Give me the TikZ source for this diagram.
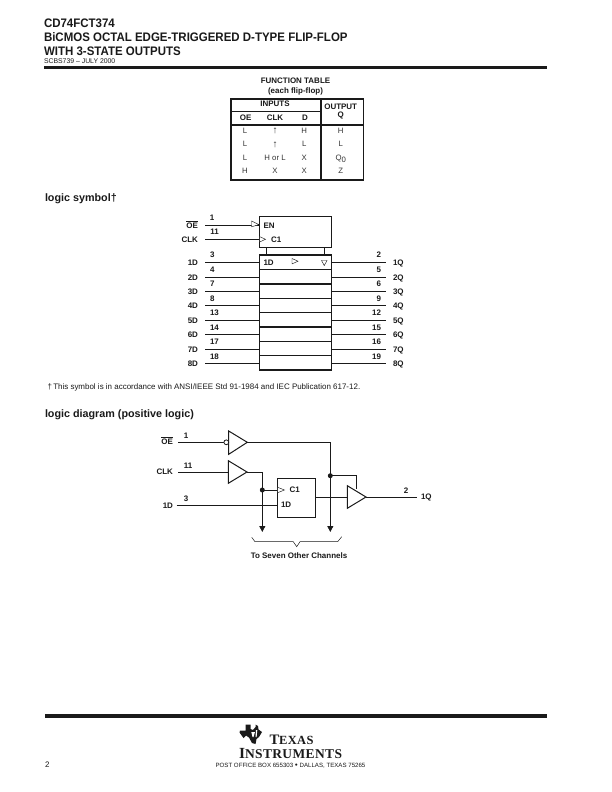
\documentclass[tikz,border=0pt]{standalone}
\usepackage{fontspec}
\setmainfont{Liberation Sans}
\newfontfamily\logofont[LetterSpace=3]{Liberation Serif}
\newfontfamily\condfont[FakeStretch=0.93]{Liberation Sans}
\usetikzlibrary{arrows.meta,calc}
\newcommand{\fsz}[1]{\fontsize{#1}{#1}\selectfont}
\newcommand{\ovl}[1]{$\overline{\hbox{#1}}$}
\definecolor{txt}{HTML}{1A1A1A}
\definecolor{txtgray}{HTML}{333333}
\tikzset{
  x=1bp,y=-1bp,
  base/.style={inner sep=0pt,outer sep=0pt,text=txt},
  title/.style={base,anchor=base west,font=\condfont\fsz{12.4}\bfseries},
  head/.style={base,anchor=base west,font=\fsz{10.8}\bfseries},
  pin/.style={base,anchor=base,font=\fsz{8}\bfseries},
  cell/.style={base,anchor=base,font=\fsz{7.8},text=txtgray},
  small/.style={base,anchor=base west,font=\fsz{6.9}},
  wire/.style={draw=txt,line width=0.8pt},
  thick box/.style={draw=txt,line width=1.4pt},
  rulebar/.style={draw=txt,line width=3.4pt},
  tabrule/.style={draw=txt,line width=1.5pt},
  clkmark/.style={draw=txt,line width=0.45pt},
  gate/.style={draw=txt,line width=1pt,fill=white,line join=miter},
  dot/.style={circle,fill=txt,inner sep=0pt,minimum size=5pt},
  downarrow/.style={wire,-{Triangle[length=6pt,width=6pt]}},
}
\begin{document}
\begin{tikzpicture}
\useasboundingbox (0,0) rectangle (612,792);
\fill[white] (0,0) rectangle (612,792);
% header
\node[title] (t1) at (44,27.7) {CD74FCT374};
\node[title] (t2) at (44,42) {BiCMOS OCTAL EDGE-TRIGGERED D-TYPE FLIP-FLOP};
\node[title] (t3) at (44,55.5) {WITH 3-STATE OUTPUTS};
\node[small] (t4) at (44,63.3) {SCBS739 -- JULY 2000};
\draw[rulebar] (44,67.5) -- (547,67.5);
% function table
\node[pin] (ft1) at (295.5,83) {FUNCTION TABLE};
\node[pin] (ft2) at (295.5,93) {(each flip-flop)};
\draw[tabrule] (231,99) rectangle (363.5,180);
\draw[tabrule] (321,99) -- (321,180);
\draw[tabrule] (231,111.7) -- (321,111.7);
\draw[tabrule] (231,125) -- (363.5,125);
\node[pin] at (275,106.7) {INPUTS};
\node[pin] at (340.7,109) {OUTPUT};
\node[pin] at (340.7,117.7) {Q};
\node[pin] at (245.7,120.7) {OE};
\node[pin] at (275,120.7) {CLK};
\node[pin] at (305,120.7) {D};
\node[cell] at (245,133.3) {L};
\node[cell,font=\fsz{10}] at (275,133.5) {↑};
\node[cell] at (304.3,133.3) {H};
\node[cell] at (340.7,133.3) {H};
\node[cell] at (245,146.7) {L};
\node[cell,font=\fsz{10}] at (275,147) {↑};
\node[cell] at (304.3,146.7) {L};
\node[cell] at (340.7,146.7) {L};
\node[cell] at (245,160.7) {L};
\node[cell] at (275,160.7) {H or L};
\node[cell] at (304.3,160.7) {X};
\node[cell] at (340.7,160.7) {Q\raisebox{-1.5pt}{0}};
\node[cell] at (245,173.3) {H};
\node[cell] at (275,173.3) {X};
\node[cell] at (304.3,173.3) {X};
\node[cell] at (340.7,173.3) {Z};
% logic symbol
\node[head] at (45,201.5) {logic symbol\raisebox{0.5pt}{†}};
\draw[thick box] (259.3,216.7) rectangle (331.3,247.3);
\draw[thick box] (266.3,247.3) -- (266.3,255);
\draw[thick box] (324.3,247.3) -- (324.3,255);
\draw[thick box] (259.3,255) rectangle (331.3,370);
\foreach \yy/\lw in {269.7/1.4,284/1.4,298.3/0.8,312.3/0.8,327/1.4,341/0.8,355.7/1.4}
  \draw[draw=txt,line width=\lw pt] (259.3,\yy) -- (331.3,\yy);
% control pins
\coordinate (enin) at (205,225); \coordinate (enpin) at (259.3,225);
\coordinate (clkin) at (205,239.3); \coordinate (clkpin) at (259.3,239.3);
\draw[wire] (enin) -- (enpin);
\draw[wire] (clkin) -- (clkpin);
\draw[clkmark,fill=white] (251.5,221) -- (259,224.6) -- (251.5,226.8) -- cycle;
\draw[clkmark,fill=white] (259.6,236.6) -- (265.5,239.3) -- (259.6,242) -- cycle;
\node[pin,anchor=base east] (oelab) at (198,228) {\ovl{OE}};
\node[pin,anchor=base east] (clklab) at (198,242) {CLK};
\node[pin] at (212,220.5) {1};
\node[pin] at (214.5,234.5) {11};
\node[pin,anchor=base west] at (263.5,228) {EN};
\node[pin,anchor=base west] at (271,242) {C1};
\node[pin,anchor=base west] at (263.5,265) {1D};
\draw[clkmark] (292,258.5) -- (298,261.2) -- (292,263.9) -- cycle;
\draw[clkmark] (321.5,260.5) -- (327,260.5) -- (324.25,265.5) -- cycle;
% data pins
\foreach \n/\yy/\pa/\pb in {1/262.3/3/2,2/277/4/5,3/291.3/7/6,4/305.7/8/9,5/320/13/12,6/334.7/14/15,7/349/17/16,8/363.7/18/19}{
  \coordinate (dl\n) at (205,\yy);
  \coordinate (dr\n) at (259.3,\yy);
  \coordinate (ql\n) at (331.3,\yy);
  \coordinate (qr\n) at (386,\yy);
  \draw[wire] (dl\n) -- (dr\n);
  \draw[wire] (ql\n) -- (qr\n);
  \node[pin,anchor=base east] at ($(198,\yy)+(0,3)$) {\n D};
  \node[pin,anchor=base west] at ($(393,\yy)+(0,3)$) {\n Q};
  \node[pin,anchor=base west] at ($(210,\yy)+(0,-4.5)$) {\pa};
  \node[pin,anchor=base east] at ($(381,\yy)+(0,-4.5)$) {\pb};
}
% footnote
\node[small,font=\fsz{8}] at (47.5,389.5) {†\,This symbol is in accordance with ANSI/IEEE Std 91-1984 and IEC Publication 617-12.};
% logic diagram
\node[head] at (45,417) {logic diagram (positive logic)};
\coordinate (oein) at (178.3,442.3);
\coordinate (bubw) at (224,442.3);
\coordinate (oeout) at (247.3,442.3);
\coordinate (en) at (330.3,442.3);
\coordinate (enbot) at (330.3,532);
\coordinate (endot) at (330.3,475.7);
\coordinate (gctl) at (356.3,475.7);
\coordinate (gctl2) at (356.3,488.5);
\coordinate (clkdin) at (178.3,472);
\coordinate (clkdout) at (247,472);
\coordinate (clkbend) at (262.3,472);
\coordinate (clkbot) at (262.3,532);
\coordinate (clkdot) at (262.3,490);
\coordinate (d1in) at (176.7,505.3);
\node[draw=txt,line width=0.9pt,inner sep=0pt,outer sep=0pt,minimum width=37.7bp,minimum height=39bp,anchor=north west] (ff) at (277.3,478.3) {};
\coordinate (gout) at (366,497);
\coordinate (qout) at (416.7,497);
\draw[wire] (oein) -- (bubw);
\draw[wire] (oeout) -- (en);
\draw[downarrow] (en) -- (enbot);
\draw[wire] (endot) -- (gctl) -- (gctl2);
\draw[wire] (clkdin) -- (229,472);
\draw[wire] (clkdout) -- (clkbend);
\draw[downarrow] (clkbend) -- (clkbot);
\draw[wire] (clkdot) -- (ff.west |- clkdot);
\draw[wire] (d1in) -- (ff.west |- d1in);
\draw[wire] (ff.east |- gout) -- (348,497);
\draw[wire] (gout) -- (qout);
\node[dot] (dota) at (endot) {};
\node[dot] (dotb) at (clkdot) {};
\draw[gate] (228.7,431) -- (247.3,442.3) -- (228.7,454.3) -- cycle;
\draw[wire,fill=white] (226.3,442.3) circle (2.4);
\draw[gate] (228.3,460.7) -- (247,472) -- (228.3,483.3) -- cycle;
\draw[gate] (347.3,485.7) -- (366,497) -- (347.3,508.3) -- cycle;
\draw[clkmark,fill=white] (277.6,487.3) -- (284.5,490) -- (277.6,492.7) -- cycle;
\node[pin,anchor=base west] at (289.5,492.5) {C1};
\node[pin,anchor=base west] at (281,507.5) {1D};
\node[pin,anchor=base east] at (173,444.5) {\ovl{OE}};
\node[pin,anchor=base east] at (173,474.5) {CLK};
\node[pin,anchor=base east] at (173,508) {1D};
\node[pin] at (186,438.5) {1};
\node[pin] at (188,468.5) {11};
\node[pin] at (186,501.5) {3};
\node[pin] at (406,493) {2};
\node[pin,anchor=base west] at (421,499.5) {1Q};
\draw[wire,line width=0.5pt] (251.7,537.3) -- (255,541.7) -- (293.3,541.7) -- (296.7,546.7) -- (300,541.7) -- (337.7,541.7) -- (341.7,536.7);
\node[pin] at (299,558.5) {To Seven Other Channels};
% footer
\draw[rulebar] (45,716) -- (547,716);
\fill[txt] (245.5,724.5) -- (250.5,724.5) -- (250.5,729) -- (253,730) -- (255.5,727) -- (255.5,724.5) -- (258,726) -- (258.5,729.5) -- (262,732) -- (259,737) -- (256.5,739) -- (255.5,744) -- (252,743) -- (249,737.5) -- (246,735.5) -- (243.5,738) -- (239.5,732.5) -- (240,730.5) -- (245.5,730.5) -- cycle;
\fill[white] (251.3,732) -- (255,732) -- (253.5,737) -- (252.5,737) -- cycle;
\fill[white] (256,730) -- (257.3,730) -- (256.6,737) -- (255.5,737) -- cycle;
\node[base,anchor=base west,font=\logofont\bfseries] at (269.5,744.5) {\fsz{14.5}T\fsz{12.5}EXAS};
\node[base,anchor=base west,font=\logofont\bfseries] at (239,758) {\fsz{15.5}I\fsz{13.5}NSTRUMENTS};
\node[small,font=\fsz{6.15},anchor=base] at (290.5,767.5) {POST OFFICE BOX 655303 \raisebox{1pt}{\fsz{5}●} DALLAS, TEXAS 75265};
\node[small,font=\fsz{8}] at (45,767) {2};
\end{tikzpicture}
\end{document}
